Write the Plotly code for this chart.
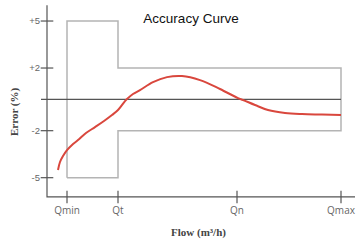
import plotly.graph_objects as go

# Flow positions (arbitrary linear units) and labels
flow_ticks = [20, 71, 190, 294]
flow_labels = ["Qmin", "Qt", "Qn", "Qmax"]

# Error axis ticks
err_ticks = [5, 2, -2, -5]
err_labels = ["+5", "+2", "-2", "-5"]

# Accuracy curve (flow, error %)
curve_x = [11, 13, 16, 20, 25, 31, 39, 48, 57, 65, 71, 78, 80, 86, 93, 106, 120, 135, 153, 173, 191, 196, 208, 221, 238, 255, 275, 294]
curve_y = [-4.51, -4.0, -3.62, -3.24, -2.91, -2.60, -2.15, -1.77, -1.38, -1.00, -0.68, -0.11, 0.02, 0.34, 0.59, 1.10, 1.42, 1.49, 1.23, 0.66, 0.08, -0.04, -0.36, -0.68, -0.87, -0.94, -0.97, -1.00]

# Tolerance envelope
q_min, q_t, q_max = 20, 71, 294
env_low_limit, env_high_limit = 5, 2
box_x = [q_min, q_min, q_t, q_t, q_max, q_max, q_t, q_t, q_min]
box_y = [-env_low_limit, env_low_limit, env_low_limit, env_high_limit, env_high_limit, -env_high_limit, -env_high_limit, -env_low_limit, -env_low_limit]

x_axis_end = 308
y_bottom, y_top = -6.23, 6.0

fig = go.Figure()

# envelope
fig.add_trace(go.Scatter(x=box_x, y=box_y, mode="lines",
                         line=dict(color="#b4b4b4", width=1.5), hoverinfo="skip"))
# zero line
fig.add_trace(go.Scatter(x=[-6, q_max], y=[0, 0], mode="lines",
                         line=dict(color="#555555", width=1.2), hoverinfo="skip"))
# axes lines
fig.add_trace(go.Scatter(x=[0, 0, x_axis_end], y=[y_top, y_bottom, y_bottom], mode="lines",
                         line=dict(color="#555555", width=1.2), hoverinfo="skip"))
# tick marks
fig.add_trace(go.Scatter(x=flow_ticks, y=[y_bottom] * len(flow_ticks), mode="markers",
                         marker=dict(symbol="line-ns", size=9, line=dict(color="#555555", width=1.2)),
                         cliponaxis=False, hoverinfo="skip"))
fig.add_trace(go.Scatter(x=[0] * len(err_ticks), y=err_ticks, mode="markers",
                         marker=dict(symbol="line-ew", size=9, line=dict(color="#555555", width=1.2)),
                         cliponaxis=False, hoverinfo="skip"))
# curve
fig.add_trace(go.Scatter(x=curve_x, y=curve_y, mode="lines",
                         line=dict(color="#d9473d", width=2, shape="spline", smoothing=1.0),
                         hoverinfo="skip"))

title_font = dict(family="Liberation Serif, DejaVu Serif", size=11, color="#444444")

fig.update_layout(
    width=358, height=243,
    margin=dict(l=41, r=1, t=3, b=44, pad=0),
    paper_bgcolor="white", plot_bgcolor="white",
    showlegend=False,
    title=dict(text="Accuracy Curve", x=191/358, xanchor="center", y=1-18/243, yanchor="middle",
               automargin=False,
               font=dict(family="Liberation Sans, Arial", size=13.5, color="#111111")),
    xaxis=dict(range=[-6, 310], showgrid=False, zeroline=False, showline=False, automargin=False,
               tickvals=flow_ticks, ticktext=flow_labels, ticks="", ticklabelstandoff=4,
               tickfont=dict(family="Open Sans, Liberation Sans", size=10, color="#666666")),
    yaxis=dict(range=[-6.36, 6.15], showgrid=False, zeroline=False, showline=False, automargin=False,
               tickvals=err_ticks, ticktext=err_labels, ticks="",
               tickfont=dict(family="Liberation Sans, Arial", size=9.5, color="#666666")),
    annotations=[
        dict(text="<b>Flow (m³/h)</b>", xref="paper", yref="paper", x=0.497, y=-0.173,
             xanchor="center", yanchor="middle", showarrow=False, font=title_font),
        dict(text="<b>Error (%)</b>", xref="paper", yref="paper", x=-0.0823, y=0.449,
             xanchor="center", yanchor="middle", showarrow=False, textangle=-90, font=title_font),
    ],
)

fig.write_html("out.html", config={"displayModeBar": False},
               post_script="document.body.style.margin='0';document.body.style.overflow='hidden';")
